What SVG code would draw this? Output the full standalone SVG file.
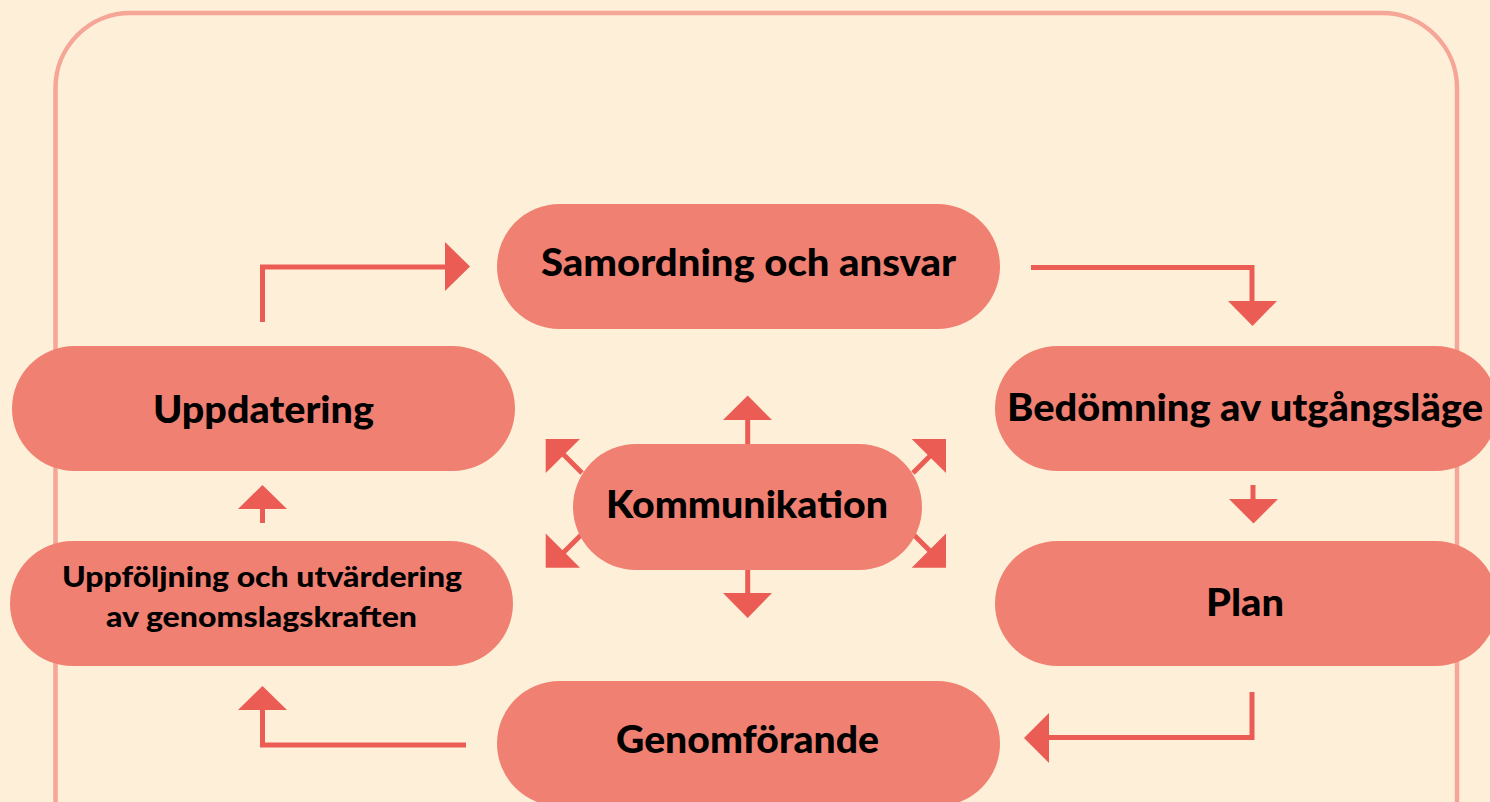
<svg xmlns="http://www.w3.org/2000/svg" width="1490" height="802" viewBox="0 0 1490 802">
<style>
.pill{fill:#F08072}
.lbl{font-family:Lato,"Liberation Sans",sans-serif;font-weight:900;font-size:37px;fill:#000;text-anchor:middle}
.sm{font-size:29px}
.ln{fill:none;stroke:#EB5C55;stroke-width:5}
.hd{fill:#EB5C55}
</style>
<rect width="1490" height="802" fill="#FEF0D8"/>
<rect x="55.5" y="13" width="1401.5" height="900" rx="75" fill="none" stroke="#F5A697" stroke-width="4.5"/>
<g id="connectors">
  <polyline class="ln" points="262.5,322 262.5,267 447,267"/>
  <polygon class="hd" points="445,242 470,266.5 445,291"/>
  <polyline class="ln" points="1031,267.5 1252,267.5 1252,303"/>
  <polygon class="hd" points="1228,301 1277,301 1252.5,326"/>
  <line class="ln" x1="1253" y1="485" x2="1253" y2="501"/>
  <polygon class="hd" points="1229,499 1278,499 1253.5,523.5"/>
  <polyline class="ln" points="1252,692 1252,737.5 1047,737.5"/>
  <polygon class="hd" points="1049,713 1024,738 1049,763"/>
  <polyline class="ln" points="466,745 262.5,745 262.5,708"/>
  <polygon class="hd" points="238,710 262.5,686 287,710"/>
  <line class="ln" x1="262.5" y1="523" x2="262.5" y2="507"/>
  <polygon class="hd" points="238,509 262.5,485 287,509"/>
  <line class="ln" x1="747.7" y1="446" x2="747.7" y2="418"/>
  <polygon class="hd" points="723,420 747.7,395.5 772,420"/>
  <line class="ln" x1="747.7" y1="568" x2="747.7" y2="595"/>
  <polygon class="hd" points="723,593 747.7,618 772,593"/>
  <line class="ln" x1="582" y1="473" x2="560" y2="451"/>
  <polygon class="hd" points="545.7,439 580,439 545.7,473"/>
  <line class="ln" x1="913" y1="473" x2="935" y2="451"/>
  <polygon class="hd" points="946,439 911.7,439 946,473"/>
  <line class="ln" x1="582" y1="534" x2="560" y2="556"/>
  <polygon class="hd" points="545.7,567.7 580,567.7 545.7,533.5"/>
  <line class="ln" x1="913" y1="534" x2="935" y2="556"/>
  <polygon class="hd" points="946,567.7 911.7,567.7 946,533.5"/>
</g>
<g id="samordning"><rect class="pill" x="497" y="204" width="503" height="125" rx="62.5"/><text class="lbl" x="748.5" y="276" textLength="415" lengthAdjust="spacingAndGlyphs">Samordning och ansvar</text></g>
<g id="uppdatering"><rect class="pill" x="12" y="346" width="503" height="125" rx="62.5"/><text class="lbl" x="263.5" y="423" textLength="221" lengthAdjust="spacingAndGlyphs">Uppdatering</text></g>
<g id="bedomning"><rect class="pill" x="995" y="346" width="503" height="125" rx="62.5"/><text class="lbl" x="1245" y="421" textLength="476" lengthAdjust="spacingAndGlyphs">Bedömning av utgångsläge</text></g>
<g id="kommunikation"><rect class="pill" x="573" y="444" width="349" height="126" rx="63"/><text class="lbl" x="747" y="518" textLength="282" lengthAdjust="spacingAndGlyphs">Kommunikation</text></g>
<g id="plan"><rect class="pill" x="995" y="541" width="503" height="125" rx="62.5"/><text class="lbl" x="1245" y="616" textLength="78" lengthAdjust="spacingAndGlyphs">Plan</text></g>
<g id="uppfoljning"><rect class="pill" x="10" y="541" width="503" height="125" rx="62.5"/><text class="lbl sm" x="262" y="587" textLength="400" lengthAdjust="spacingAndGlyphs">Uppföljning och utvärdering</text><text class="lbl sm" x="261.5" y="627" textLength="311" lengthAdjust="spacingAndGlyphs">av genomslagskraften</text></g>
<g id="genomforande"><rect class="pill" x="497" y="681" width="503" height="125" rx="62.5"/><text class="lbl" x="747.5" y="753" textLength="263" lengthAdjust="spacingAndGlyphs">Genomförande</text></g>
</svg>
